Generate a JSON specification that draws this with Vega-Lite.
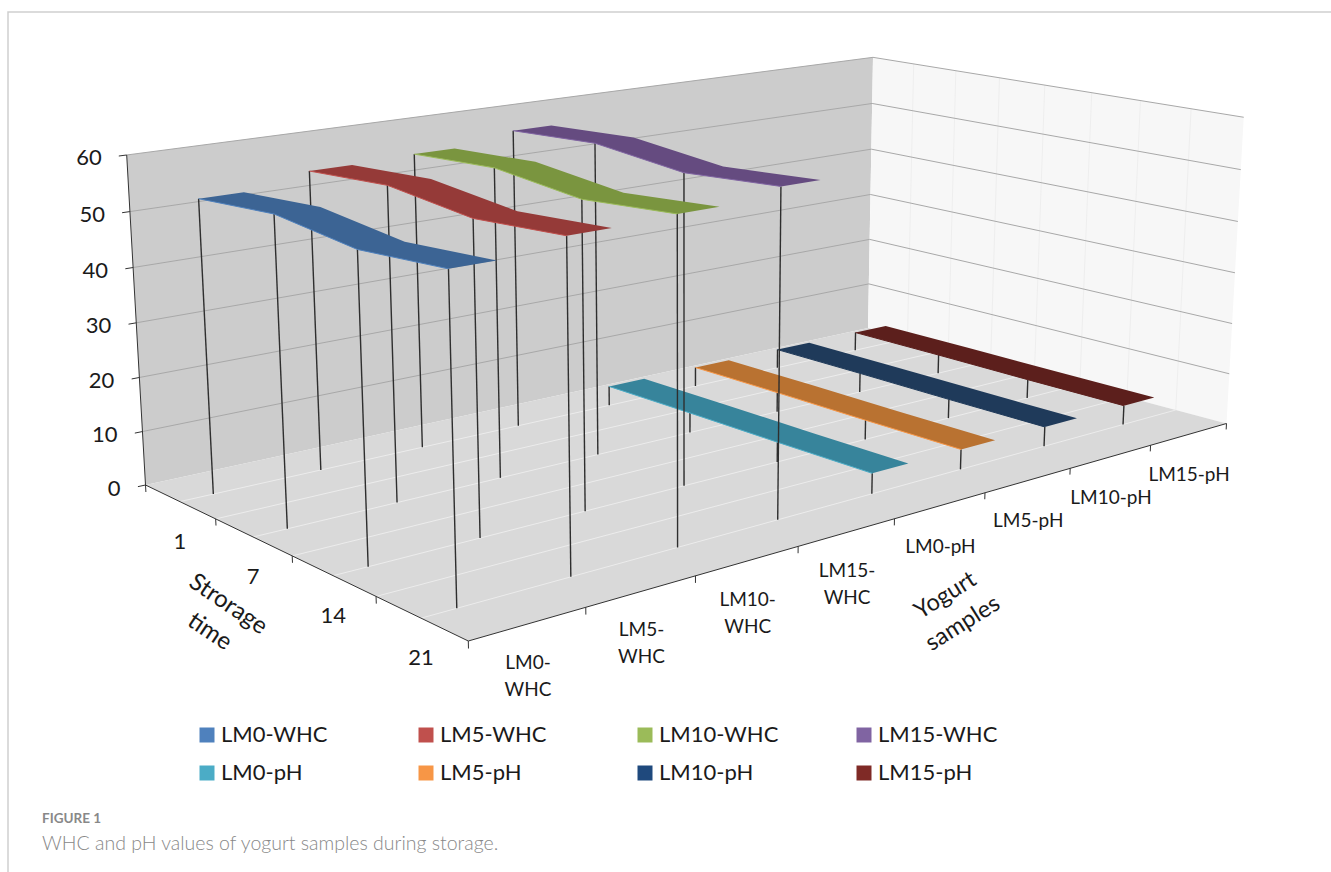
{
"$schema":"https://vega.github.io/schema/vega-lite/v6.json",
"width":1326,"height":863,"padding":{"left":8,"top":12,"right":-3,"bottom":-3},"autosize":{"type":"none"},"background":"white",
"view":{"stroke":"#cfcfcf","strokeWidth":1.5,"fill":null},
"title":{"text":"FIGURE 1","subtitle":"WHC and pH values of yogurt samples during storage.","anchor":"start","frame":"group","orient":"bottom","offset":-63,"dx":34,"font":"Lato","fontSize":13.5,"fontWeight":"bold","color":"#888888","subtitleFont":"Lato","subtitleFontSize":19.5,"subtitleColor":"#888888","subtitleFontWeight":300,"subtitlePadding":9},
"datasets":{
"values":[
{"series":"LM0-WHC","i":0,"day":1,"j":0,"value":53.3},{"series":"LM0-WHC","i":0,"day":7,"j":1,"value":54.5},{"series":"LM0-WHC","i":0,"day":14,"j":2,"value":52.7},{"series":"LM0-WHC","i":0,"day":21,"j":3,"value":53.9},
{"series":"LM5-WHC","i":1,"day":1,"j":0,"value":55.4},{"series":"LM5-WHC","i":1,"day":7,"j":1,"value":56.5},{"series":"LM5-WHC","i":1,"day":14,"j":2,"value":54.7},{"series":"LM5-WHC","i":1,"day":21,"j":3,"value":55.9},
{"series":"LM10-WHC","i":2,"day":1,"j":0,"value":55.8},{"series":"LM10-WHC","i":2,"day":7,"j":1,"value":56.8},{"series":"LM10-WHC","i":2,"day":14,"j":2,"value":55.0},{"series":"LM10-WHC","i":2,"day":21,"j":3,"value":56.4},
{"series":"LM15-WHC","i":3,"day":1,"j":0,"value":57.6},{"series":"LM15-WHC","i":3,"day":7,"j":1,"value":58.6},{"series":"LM15-WHC","i":3,"day":14,"j":2,"value":56.8},{"series":"LM15-WHC","i":3,"day":21,"j":3,"value":58.1},
{"series":"LM0-pH","i":4,"day":1,"j":0,"value":3.9},{"series":"LM0-pH","i":4,"day":7,"j":1,"value":3.9},{"series":"LM0-pH","i":4,"day":14,"j":2,"value":3.8},{"series":"LM0-pH","i":4,"day":21,"j":3,"value":3.8},
{"series":"LM5-pH","i":5,"day":1,"j":0,"value":3.9},{"series":"LM5-pH","i":5,"day":7,"j":1,"value":3.9},{"series":"LM5-pH","i":5,"day":14,"j":2,"value":3.8},{"series":"LM5-pH","i":5,"day":21,"j":3,"value":3.8},
{"series":"LM10-pH","i":6,"day":1,"j":0,"value":3.9},{"series":"LM10-pH","i":6,"day":7,"j":1,"value":3.9},{"series":"LM10-pH","i":6,"day":14,"j":2,"value":3.8},{"series":"LM10-pH","i":6,"day":21,"j":3,"value":3.8},
{"series":"LM15-pH","i":7,"day":1,"j":0,"value":3.9},{"series":"LM15-pH","i":7,"day":7,"j":1,"value":3.9},{"series":"LM15-pH","i":7,"day":14,"j":2,"value":3.8},{"series":"LM15-pH","i":7,"day":21,"j":3,"value":3.8}
],
"walls":[
{"wall":"left","o":0,"s":0,"t":0,"z":0},{"wall":"left","o":1,"s":1,"t":0,"z":0},{"wall":"left","o":2,"s":1,"t":0,"z":1},{"wall":"left","o":3,"s":0,"t":0,"z":1},
{"wall":"right","o":0,"s":1,"t":0,"z":0},{"wall":"right","o":1,"s":1,"t":1,"z":0},{"wall":"right","o":2,"s":1,"t":1,"z":1},{"wall":"right","o":3,"s":1,"t":0,"z":1},
{"wall":"floor","o":0,"s":0,"t":0,"z":0},{"wall":"floor","o":1,"s":1,"t":0,"z":0},{"wall":"floor","o":2,"s":1,"t":1,"z":0},{"wall":"floor","o":3,"s":0,"t":1,"z":0}
],
"frame":[
{"kind":"floor","s":0,"t":0.125,"z":0,"s2":1,"t2":0.125,"z2":0},{"kind":"floor","s":0,"t":0.25,"z":0,"s2":1,"t2":0.25,"z2":0},{"kind":"floor","s":0,"t":0.375,"z":0,"s2":1,"t2":0.375,"z2":0},{"kind":"floor","s":0,"t":0.5,"z":0,"s2":1,"t2":0.5,"z2":0},{"kind":"floor","s":0,"t":0.625,"z":0,"s2":1,"t2":0.625,"z2":0},{"kind":"floor","s":0,"t":0.75,"z":0,"s2":1,"t2":0.75,"z2":0},{"kind":"floor","s":0,"t":0.875,"z":0,"s2":1,"t2":0.875,"z2":0},
{"kind":"vert","s":1,"t":0.125,"z":0,"s2":1,"t2":0.125,"z2":1},{"kind":"vert","s":1,"t":0.25,"z":0,"s2":1,"t2":0.25,"z2":1},{"kind":"vert","s":1,"t":0.375,"z":0,"s2":1,"t2":0.375,"z2":1},{"kind":"vert","s":1,"t":0.5,"z":0,"s2":1,"t2":0.5,"z2":1},{"kind":"vert","s":1,"t":0.625,"z":0,"s2":1,"t2":0.625,"z2":1},{"kind":"vert","s":1,"t":0.75,"z":0,"s2":1,"t2":0.75,"z2":1},{"kind":"vert","s":1,"t":0.875,"z":0,"s2":1,"t2":0.875,"z2":1},
{"kind":"grid","s":0,"t":0,"z":0.16667,"s2":1,"t2":0,"z2":0.16667},{"kind":"grid","s":0,"t":0,"z":0.33333,"s2":1,"t2":0,"z2":0.33333},{"kind":"grid","s":0,"t":0,"z":0.5,"s2":1,"t2":0,"z2":0.5},{"kind":"grid","s":0,"t":0,"z":0.66667,"s2":1,"t2":0,"z2":0.66667},{"kind":"grid","s":0,"t":0,"z":0.83333,"s2":1,"t2":0,"z2":0.83333},
{"kind":"grid","s":1,"t":0,"z":0.16667,"s2":1,"t2":1,"z2":0.16667},{"kind":"grid","s":1,"t":0,"z":0.33333,"s2":1,"t2":1,"z2":0.33333},{"kind":"grid","s":1,"t":0,"z":0.5,"s2":1,"t2":1,"z2":0.5},{"kind":"grid","s":1,"t":0,"z":0.66667,"s2":1,"t2":1,"z2":0.66667},{"kind":"grid","s":1,"t":0,"z":0.83333,"s2":1,"t2":1,"z2":0.83333},
{"kind":"grid","s":0,"t":0,"z":1,"s2":1,"t2":0,"z2":1},{"kind":"grid","s":1,"t":0,"z":1,"s2":1,"t2":1,"z2":1},
{"kind":"axis","s":0,"t":0,"z":0,"s2":0,"t2":0,"z2":1},{"kind":"axis","s":0,"t":0,"z":0,"s2":0,"t2":1,"z2":0},{"kind":"axis","s":0,"t":1,"z":0,"s2":1,"t2":1,"z2":0},
{"kind":"axis","s":-0.0085,"t":0,"z":0,"s2":0,"t2":0,"z2":0},{"kind":"axis","s":-0.0085,"t":0,"z":0.16667,"s2":0,"t2":0,"z2":0.16667},{"kind":"axis","s":-0.0085,"t":0,"z":0.33333,"s2":0,"t2":0,"z2":0.33333},{"kind":"axis","s":-0.0085,"t":0,"z":0.5,"s2":0,"t2":0,"z2":0.5},{"kind":"axis","s":-0.0085,"t":0,"z":0.66667,"s2":0,"t2":0,"z2":0.66667},{"kind":"axis","s":-0.0085,"t":0,"z":0.83333,"s2":0,"t2":0,"z2":0.83333},{"kind":"axis","s":-0.0085,"t":0,"z":1,"s2":0,"t2":0,"z2":1},
{"kind":"axis","s":0,"t":0,"z":0,"s2":0,"t2":0,"z2":-0.022},{"kind":"axis","s":0,"t":0.25,"z":0,"s2":0,"t2":0.25,"z2":-0.02},{"kind":"axis","s":0,"t":0.5,"z":0,"s2":0,"t2":0.5,"z2":-0.02},{"kind":"axis","s":0,"t":0.75,"z":0,"s2":0,"t2":0.75,"z2":-0.02},{"kind":"axis","s":0,"t":1,"z":0,"s2":0,"t2":1,"z2":-0.02},
{"kind":"axis","s":0.125,"t":1,"z":0,"s2":0.125,"t2":1,"z2":-0.02},{"kind":"axis","s":0.25,"t":1,"z":0,"s2":0.25,"t2":1,"z2":-0.02},{"kind":"axis","s":0.375,"t":1,"z":0,"s2":0.375,"t2":1,"z2":-0.02},{"kind":"axis","s":0.5,"t":1,"z":0,"s2":0.5,"t2":1,"z2":-0.02},{"kind":"axis","s":0.625,"t":1,"z":0,"s2":0.625,"t2":1,"z2":-0.02},{"kind":"axis","s":0.75,"t":1,"z":0,"s2":0.75,"t2":1,"z2":-0.02},{"kind":"axis","s":0.875,"t":1,"z":0,"s2":0.875,"t2":1,"z2":-0.02},{"kind":"axis","s":1,"t":1,"z":0,"s2":1,"t2":1,"z2":-0.02}
],
"texts":[
{"kind":"value","label":"0","s":0,"t":0,"z":0},{"kind":"value","label":"10","s":0,"t":0,"z":0.16667},{"kind":"value","label":"20","s":0,"t":0,"z":0.33333},{"kind":"value","label":"30","s":0,"t":0,"z":0.5},{"kind":"value","label":"40","s":0,"t":0,"z":0.66667},{"kind":"value","label":"50","s":0,"t":0,"z":0.83333},{"kind":"value","label":"60","s":0,"t":0,"z":1},
{"kind":"day","label":"1","s":0,"t":0.125,"z":0},{"kind":"day","label":"7","s":0,"t":0.375,"z":0},{"kind":"day","label":"14","s":0,"t":0.625,"z":0},{"kind":"day","label":"21","s":0,"t":0.875,"z":0},
{"kind":"two","label":"LM0-\nWHC","s":0.0625,"t":1,"z":0},{"kind":"two","label":"LM5-\nWHC","s":0.1875,"t":1,"z":0},{"kind":"two","label":"LM10-\nWHC","s":0.3125,"t":1,"z":0},{"kind":"two","label":"LM15-\nWHC","s":0.4375,"t":1,"z":0},
{"kind":"one","label":"LM0-pH","s":0.5625,"t":1,"z":0},{"kind":"one","label":"LM5-pH","s":0.6875,"t":1,"z":0},{"kind":"one","label":"LM10-pH","s":0.8125,"t":1,"z":0},{"kind":"one","label":"LM15-pH","s":0.9375,"t":1,"z":0},
{"kind":"ttitle","label":"Strorage\ntime","s":0,"t":0.375,"z":0},
{"kind":"stitle","label":"Yogurt\nsamples","s":0.5625,"t":1,"z":0}
]
},
"encoding":{
"x":{"field":"px","type":"quantitative","scale":{"domain":[8,1334]},"axis":null},
"y":{"field":"py","type":"quantitative","scale":{"domain":[875,12]},"axis":null}
},
"resolve":{"scale":{"stroke":"independent","fill":"independent","color":"independent","strokeWidth":"independent"}},
"layer":[
{"data":{"name":"walls"},
 "transform":[
 {"calculate":"datum.s-0.016*datum.s*(1-datum.s)","as":"s"},
 {"calculate":"1+0.2534*datum.s-0.1669*datum.t-0.0336*datum.z","as":"w"},
 {"calculate":"(942.45*datum.s+244.64*datum.t-23.06*datum.z+145.5)/datum.w","as":"px"},
 {"calculate":"(-73.88*datum.s+49.02*datum.t-335.21*datum.z+485)/datum.w-datum.z*datum.s*(4.9*(1-datum.t)+1.4*datum.t)","as":"py"}],
 "mark":{"type":"line","strokeWidth":0},
 "encoding":{"order":{"field":"o","type":"quantitative"},"fill":{"field":"wall","type":"nominal","legend":null,"scale":{"domain":["left","right","floor"],"range":["#cccccc","#f7f7f7","#d9d9d9"]}}}
},
{"data":{"name":"frame"},
 "transform":[
 {"calculate":"datum.s-0.016*datum.s*(1-datum.s)","as":"s"},
 {"calculate":"datum.s2-0.016*datum.s2*(1-datum.s2)","as":"s2"},
 {"calculate":"1+0.2534*datum.s-0.1669*datum.t-0.0336*datum.z","as":"w"},
 {"calculate":"(942.45*datum.s+244.64*datum.t-23.06*datum.z+145.5)/datum.w","as":"px"},
 {"calculate":"(-73.88*datum.s+49.02*datum.t-335.21*datum.z+485)/datum.w-datum.z*datum.s*(4.9*(1-datum.t)+1.4*datum.t)","as":"py"},
 {"calculate":"1+0.2534*datum.s2-0.1669*datum.t2-0.0336*datum.z2","as":"w2"},
 {"calculate":"(942.45*datum.s2+244.64*datum.t2-23.06*datum.z2+145.5)/datum.w2","as":"px2"},
 {"calculate":"(-73.88*datum.s2+49.02*datum.t2-335.21*datum.z2+485)/datum.w2-datum.z2*datum.s2*(4.9*(1-datum.t2)+1.4*datum.t2)","as":"py2"}],
 "mark":{"type":"rule"},
 "encoding":{"x2":{"field":"px2"},"y2":{"field":"py2"},
 "stroke":{"field":"kind","type":"nominal","legend":null,"scale":{"domain":["floor","vert","grid","axis"],"range":["#ececec","#eeeeee","#a8a8a8","#333333"]}},
 "strokeWidth":{"field":"kind","type":"nominal","legend":null,"scale":{"domain":["floor","vert","grid","axis"],"range":[1,1,1.1,1.3]}}}
},
{"data":{"name":"values"},
 "transform":[
 {"calculate":"[0,1]","as":"sides"},{"flatten":["sides"],"as":["side"]},
 {"calculate":"(datum.i+0.5)/8-0.025+datum.side*0.05","as":"s"},
 {"calculate":"datum.s-0.016*datum.s*(1-datum.s)","as":"s"},
 {"calculate":"(datum.j+0.5)/4","as":"t"},
 {"calculate":"datum.value/60","as":"z"},
 {"calculate":"datum.side==0?datum.j:7-datum.j","as":"o"},
 {"calculate":"1+0.2534*datum.s-0.1669*datum.t-0.0336*datum.z","as":"w"},
 {"calculate":"(942.45*datum.s+244.64*datum.t-23.06*datum.z+145.5)/datum.w","as":"px"},
 {"calculate":"(-73.88*datum.s+49.02*datum.t-335.21*datum.z+485)/datum.w-datum.z*datum.s*(4.9*(1-datum.t)+1.4*datum.t)","as":"py"},
 {"calculate":"1+0.2534*datum.s-0.1669*datum.t","as":"w0"},
 {"calculate":"(942.45*datum.s+244.64*datum.t+145.5)/datum.w0","as":"fx"},
 {"calculate":"(-73.88*datum.s+49.02*datum.t+485)/datum.w0","as":"fy"}],
 "layer":[
 {"transform":[{"filter":"datum.i>=4 && datum.side==0"}],"mark":{"type":"rule","stroke":"#2e2e2e","strokeWidth":1.4},"encoding":{"x2":{"field":"fx"},"y2":{"field":"fy"}}},
 {"transform":[{"filter":"datum.i>=4"}],"mark":{"type":"line","strokeWidth":0},"encoding":{"order":{"field":"o","type":"quantitative"},"fill":{"field":"series","type":"nominal","legend":null,"scale":{"domain":["LM0-pH","LM5-pH","LM10-pH","LM15-pH"],"range":["#37849b","#b97231","#1f3a5a","#5c1f1c"]}}}},
 {"transform":[{"filter":"datum.i>=4 && datum.side==0"}],"mark":{"type":"line","strokeWidth":1},"encoding":{"order":{"field":"j","type":"quantitative"},"stroke":{"field":"series","type":"nominal","legend":null,"scale":{"domain":["LM0-pH","LM5-pH","LM10-pH","LM15-pH"],"range":["#4bacc6","#f79646","#1f3a5a","#5c1f1c"]}}}},
 {"transform":[{"filter":"datum.i==3 && datum.side==0"}],"mark":{"type":"rule","stroke":"#2e2e2e","strokeWidth":1.4},"encoding":{"x2":{"field":"fx"},"y2":{"field":"fy"}}},
 {"transform":[{"filter":"datum.i==3"}],"mark":{"type":"line","strokeWidth":0,"fill":"#654b80"},"encoding":{"order":{"field":"o","type":"quantitative"}}},
 {"transform":[{"filter":"datum.i==3 && datum.side==0"}],"mark":{"type":"line","strokeWidth":1,"stroke":"#8064a2"},"encoding":{"order":{"field":"j","type":"quantitative"}}},
 {"transform":[{"filter":"datum.i==2 && datum.side==0"}],"mark":{"type":"rule","stroke":"#2e2e2e","strokeWidth":1.4},"encoding":{"x2":{"field":"fx"},"y2":{"field":"fy"}}},
 {"transform":[{"filter":"datum.i==2"}],"mark":{"type":"line","strokeWidth":0,"fill":"#7a953f"},"encoding":{"order":{"field":"o","type":"quantitative"}}},
 {"transform":[{"filter":"datum.i==2 && datum.side==0"}],"mark":{"type":"line","strokeWidth":1,"stroke":"#9bbb59"},"encoding":{"order":{"field":"j","type":"quantitative"}}},
 {"transform":[{"filter":"datum.i==1 && datum.side==0"}],"mark":{"type":"rule","stroke":"#2e2e2e","strokeWidth":1.4},"encoding":{"x2":{"field":"fx"},"y2":{"field":"fy"}}},
 {"transform":[{"filter":"datum.i==1"}],"mark":{"type":"line","strokeWidth":0,"fill":"#953a38"},"encoding":{"order":{"field":"o","type":"quantitative"}}},
 {"transform":[{"filter":"datum.i==1 && datum.side==0"}],"mark":{"type":"line","strokeWidth":1,"stroke":"#c0504d"},"encoding":{"order":{"field":"j","type":"quantitative"}}},
 {"transform":[{"filter":"datum.i==0 && datum.side==0"}],"mark":{"type":"rule","stroke":"#2e2e2e","strokeWidth":1.4},"encoding":{"x2":{"field":"fx"},"y2":{"field":"fy"}}},
 {"transform":[{"filter":"datum.i==0"}],"mark":{"type":"line","strokeWidth":0,"fill":"#3c6494"},"encoding":{"order":{"field":"o","type":"quantitative"}}},
 {"transform":[{"filter":"datum.i==0 && datum.side==0"}],"mark":{"type":"line","strokeWidth":1,"stroke":"#4f81bd"},"encoding":{"order":{"field":"j","type":"quantitative"}}},
 {"transform":[{"filter":"datum.side==0"}],"mark":{"type":"square","size":0},
  "encoding":{"color":{"field":"series","type":"nominal","scale":{"domain":["LM0-WHC","LM5-WHC","LM10-WHC","LM15-WHC","LM0-pH","LM5-pH","LM10-pH","LM15-pH"],"range":["#4f81bd","#c0504d","#9bbb59","#8064a2","#4bacc6","#f79646","#1f497d","#7f2a26"]},
  "legend":{"orient":"none","legendX":188,"legendY":712,"columns":4,"direction":"horizontal","title":null,"gridAlign":"all","symbolType":"square","symbolSize":225,"symbolOpacity":1,"symbolStrokeWidth":0,"labelFont":"Lato","labelFontSize":22,"labelColor":"#1a1a1a","labelOffset":3,"columnPadding":74,"rowPadding":16,"padding":0,"labelLimit":300}}}}
 ]
},
{"data":{"name":"texts"},
 "transform":[
 {"calculate":"datum.s-0.016*datum.s*(1-datum.s)","as":"s"},
 {"calculate":"1+0.2534*datum.s-0.1669*datum.t-0.0336*datum.z","as":"w"},
 {"calculate":"(942.45*datum.s+244.64*datum.t-23.06*datum.z+145.5)/datum.w","as":"px"},
 {"calculate":"(-73.88*datum.s+49.02*datum.t-335.21*datum.z+485)/datum.w-datum.z*datum.s*(4.9*(1-datum.t)+1.4*datum.t)","as":"py"}],
 "layer":[
 {"transform":[{"filter":"datum.kind=='value'"}],"mark":{"type":"text","font":"Lato","fontSize":22,"color":"#1a1a1a","align":"right","baseline":"middle","dx":-25,"dy":3.5},"encoding":{"text":{"field":"label"}}},
 {"transform":[{"filter":"datum.kind=='day'"}],"mark":{"type":"text","font":"Lato","fontSize":22,"color":"#1a1a1a","align":"center","baseline":"middle","dy":40},"encoding":{"text":{"field":"label"}}},
 {"transform":[{"filter":"datum.kind=='two'"}],"mark":{"type":"text","font":"Lato","fontSize":19,"color":"#1a1a1a","align":"center","baseline":"middle","dy":39,"lineBreak":"\n","lineHeight":27},"encoding":{"text":{"field":"label"}}},
 {"transform":[{"filter":"datum.kind=='one'"}],"mark":{"type":"text","font":"Lato","fontSize":19,"color":"#1a1a1a","align":"center","baseline":"middle","dy":41},"encoding":{"text":{"field":"label"}}},
 {"transform":[{"filter":"datum.kind=='ttitle'"}],"mark":{"type":"text","font":"Lato","fontSize":24,"color":"#1a1a1a","align":"center","baseline":"middle","angle":34,"dx":17,"dy":70,"lineBreak":"\n","lineHeight":33},"encoding":{"text":{"field":"label"}}},
 {"transform":[{"filter":"datum.kind=='stitle'"}],"mark":{"type":"text","font":"Lato","fontSize":23.5,"color":"#1a1a1a","align":"center","baseline":"middle","angle":328,"dx":-43.5,"dy":79,"lineBreak":"\n","lineHeight":33},"encoding":{"text":{"field":"label"}}}
 ]
}
]
}
